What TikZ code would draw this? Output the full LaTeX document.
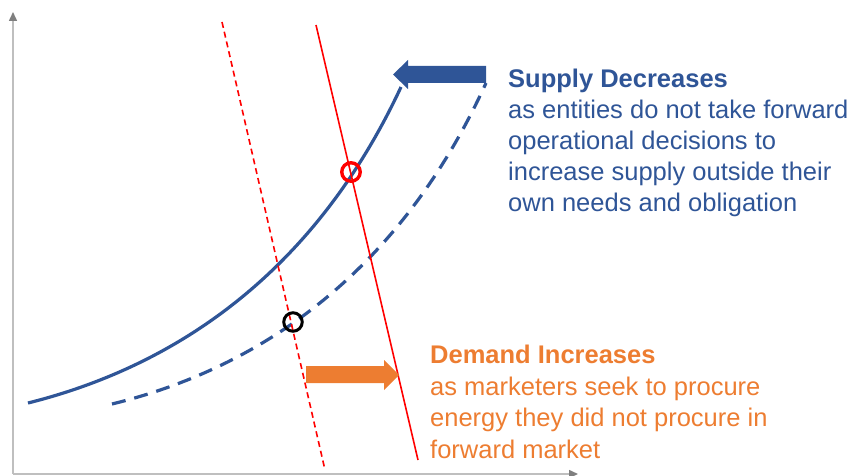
\documentclass[tikz,border=0pt]{standalone}
\usepackage{fontspec}
\setmainfont{Liberation Sans}
\usetikzlibrary{arrows.meta}
\definecolor{supblue}{HTML}{2F5597}
\definecolor{demorange}{HTML}{ED7D31}
\definecolor{axisgray}{HTML}{BFBFBF}
\definecolor{tipgray}{HTML}{7F7F7F}
\begin{document}
\begin{tikzpicture}[x=1pt,y=-1pt,
  axisline/.style={draw=axisgray,line width=1.5pt,-{Triangle[length=9pt,width=8pt,fill=tipgray,color=tipgray]}},
  curve/.style={draw=supblue,line width=3.2pt},
  dashcurve/.style={curve,dash pattern=on 14pt off 9pt},
  redline/.style={draw=red,line width=1.6pt},
  reddash/.style={redline,dash pattern=on 6pt off 4pt},
  marker/.style={circle,minimum size=18.5pt,inner sep=0pt,line width=3.4pt},
  txt/.style={anchor=base west,inner sep=0pt,font=\fontsize{25.5}{30}\selectfont},
  btxt/.style={txt,font=\fontsize{25.5}{30}\selectfont\bfseries},
  bluearrow/.style={fill=supblue},
  orangearrow/.style={fill=demorange}]
\useasboundingbox (0,0) rectangle (856,476);
% axes
\coordinate (O) at (13,474);
\coordinate (Ytop) at (13,12);
\coordinate (Xend) at (578,474);
\draw[axisline] (O) -- (Ytop);
\draw[axisline] (O) -- (Xend);
% supply curves
\coordinate (s1a) at (28,403);
\coordinate (s1b) at (401,87);
\coordinate (s2a) at (112,404);
\coordinate (s2b) at (486,83);
\draw[curve] (s1a) .. controls (200,360) and (325,250) .. (s1b);
\draw[dashcurve] (s2a) .. controls (284,362) and (410,250) .. (s2b);
% demand lines
\coordinate (d1a) at (222,22);
\coordinate (d1b) at (325,470);
\coordinate (d2a) at (316,25);
\coordinate (d2b) at (418,460);
\draw[reddash] (d1a) -- (d1b);
\draw[redline] (d2a) -- (d2b);
% markers
\node[marker,draw=red] (eq1) at (351,172) {};
\node[marker,draw=black,line width=3pt] (eq2) at (293,322) {};
% block arrows
\fill[bluearrow] (486,66) -- (408,66) -- (408,60) -- (393,74.5) -- (408,89) -- (408,83) -- (486,83) -- cycle;
\fill[orangearrow] (306,366) -- (384,366) -- (384,360) -- (399,375) -- (384,390) -- (384,383) -- (306,383) -- cycle;
% texts
\node[btxt,text=supblue] (s0) at (508,88) {Supply Decreases};
\node[txt,text=supblue] (s1) at (508,118) {as entities do not take forward};
\node[txt,text=supblue] (s2) at (508,149) {operational decisions to};
\node[txt,text=supblue] (s3) at (508,180) {increase supply outside their};
\node[txt,text=supblue] (s4) at (508,211) {own needs and obligation};
\node[btxt,text=demorange] (d0) at (430,363) {Demand Increases};
\node[txt,text=demorange] (d1) at (430,395) {as marketers seek to procure};
\node[txt,text=demorange] (d2) at (430,426) {energy they did not procure in};
\node[txt,text=demorange] (d3) at (430,458) {forward market};
\end{tikzpicture}
\end{document}
